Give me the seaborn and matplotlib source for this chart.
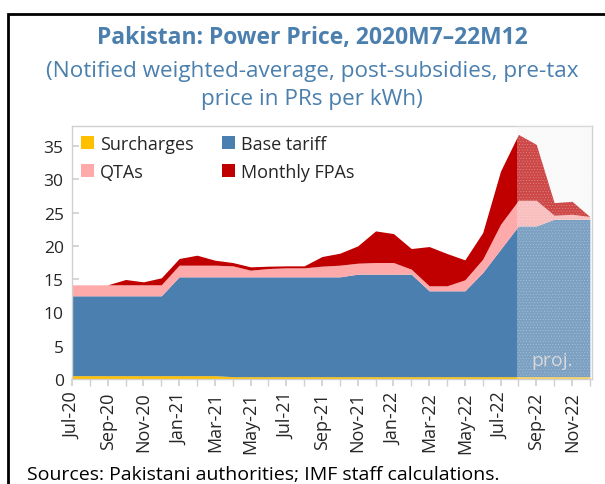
import numpy as np
import pandas as pd
import matplotlib
matplotlib.use('Agg')
import matplotlib.pyplot as plt
from matplotlib.patches import Rectangle
import seaborn as sns

# ============================================================
# DATA (PRs per kWh)
# ============================================================
months = ['Jul-20', 'Aug-20', 'Sep-20', 'Oct-20', 'Nov-20', 'Dec-20',
          'Jan-21', 'Feb-21', 'Mar-21', 'Apr-21', 'May-21', 'Jun-21',
          'Jul-21', 'Aug-21', 'Sep-21', 'Oct-21', 'Nov-21', 'Dec-21',
          'Jan-22', 'Feb-22', 'Mar-22', 'Apr-22', 'May-22', 'Jun-22',
          'Jul-22', 'Aug-22', 'Sep-22', 'Oct-22', 'Nov-22', 'Dec-22']

surcharges = [0.5, 0.5, 0.5, 0.5, 0.5, 0.5, 0.5, 0.5, 0.5, 0.35,
              0.35, 0.35, 0.35, 0.35, 0.35, 0.35, 0.35, 0.35, 0.35, 0.35,
              0.35, 0.35, 0.35, 0.35, 0.35, 0.35, 0.35, 0.35, 0.35, 0.35]
base_tariff = [12.0, 12.0, 12.0, 12.0, 12.0, 12.0, 14.85, 14.85, 14.85, 15.0,
               15.0, 15.0, 15.0, 15.0, 15.0, 15.0, 15.4, 15.4, 15.4, 15.4,
               12.9, 12.9, 12.9, 15.65, 19.15, 22.65, 22.65, 23.65, 23.65, 23.65]
qtas = [1.65, 1.65, 1.65, 1.65, 1.65, 1.65, 1.75, 1.75, 1.75, 1.65,
        1.0, 1.25, 1.35, 1.35, 1.6, 1.75, 1.65, 1.75, 1.75, 0.75,
        0.75, 0.75, 1.65, 2.0, 3.75, 3.85, 3.85, 0.6, 0.75, 0.4]
monthly_fpas = [0.0, 0.0, 0.0, 0.8, 0.45, 1.05, 1.0, 1.5, 0.75, 0.5,
                0.5, 0.35, 0.3, 0.3, 1.45, 1.8, 2.6, 4.75, 4.35, 3.1,
                5.9, 4.85, 3.0, 4.0, 8.0, 9.9, 8.4, 1.9, 1.95, 0.0]

series_names = ['Surcharges', 'Base tariff', 'QTAs', 'Monthly FPAs']
yticks = [0, 5, 10, 15, 20, 25, 30, 35]
proj_start = 'Aug-22'

# ============================================================
# STYLE SETTINGS
# ============================================================
sns.set_theme(style='white')
plt.rcParams['font.family'] = ['Open Sans', 'DejaVu Sans']
plt.rcParams['hatch.linewidth'] = 0.4
COLORS = ['#FFC000', '#4A7FB0', '#FFAAAA', '#C00000']
BLUE_TXT = '#4A7FAE'
SPINE = '#D0D0D0'

df = pd.DataFrame({'month': months, 'Surcharges': surcharges,
                   'Base tariff': base_tariff, 'QTAs': qtas,
                   'Monthly FPAs': monthly_fpas})
x = np.arange(len(df))

fig = plt.figure(figsize=(6.05, 4.85), dpi=100)
ax = fig.add_axes([0.119, 0.2165, 0.8595, 0.5215])

polys = ax.stackplot(x, [df[c] for c in series_names], colors=COLORS,
                     labels=series_names, linewidth=0)

# projection shading
p0 = months.index(proj_start) - 0.08
ax.axvspan(p0, len(df) - 1 + 0.12, facecolor='#EEEEEE', alpha=0.3,
           edgecolor='#FFFFFF', hatch='......', linewidth=0, zorder=3)
ax.text(26.9, 2.85, 'proj.', color='#D8D8D8', fontsize=14,
        ha='center', va='center', zorder=4)

ax.set_xlim(0, len(df) - 1 + 0.12)
ax.set_ylim(0, 38)
ax.set_yticks(yticks)
ax.set_xticks(x, minor=True)
ax.set_xticks(x[::2])
ax.set_xticklabels(months[::2], rotation=90)
ax.tick_params(axis='y', direction='in', length=5, color=SPINE, labelsize=12.5,
               pad=6, left=True)
ax.tick_params(axis='x', which='both', direction='out', length=5, color=SPINE,
               labelsize=13, pad=4, bottom=True)
for s in ax.spines.values():
    s.set_color(SPINE)
    s.set_linewidth(1.0)

handles = [polys[0], polys[2], polys[1], polys[3]]
labels = ['Surcharges', 'QTAs', 'Base tariff', 'Monthly FPAs']
ax.legend(handles, labels, ncol=2, loc='upper left', frameon=False,
          fontsize=13, handlelength=0.7, handleheight=0.7,
          handletextpad=0.35, columnspacing=1.6, labelspacing=0.55,
          borderaxespad=0.1, bbox_to_anchor=(0.0, 1.0))

fig.text(0.516, 0.922, 'Pakistan: Power Price, 2020M7\u201322M12',
         ha='center', va='center', fontsize=16.5, fontweight='bold', color=BLUE_TXT)
fig.text(0.516, 0.852, '(Notified weighted-average, post-subsidies, pre-tax',
         ha='center', va='center', fontsize=16.2, color=BLUE_TXT)
fig.text(0.516, 0.794, 'price in PRs per kWh)',
         ha='center', va='center', fontsize=16.2, color=BLUE_TXT)
fig.text(0.045, 0.02, 'Sources: Pakistani authorities; IMF staff calculations.',
         ha='left', va='center', fontsize=14, color='black')

# outer frame (open at the bottom)
fig.add_artist(Rectangle((8 / 605, -0.05), 1.0, 1 - 15 / 485 + 0.05,
                         transform=fig.transFigure, fill=False,
                         edgecolor='black', linewidth=2.0))

fig.savefig('out.png', dpi=100)
